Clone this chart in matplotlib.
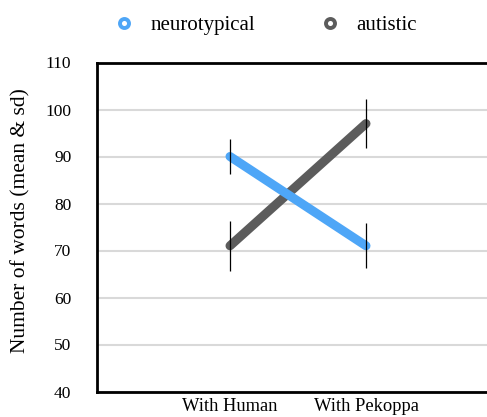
import matplotlib.pyplot as plt
from matplotlib.lines import Line2D

plt.rcParams['font.family'] = ['Liberation Serif', 'DejaVu Serif']

# 数据
conditions = ['With Human', 'With Pekoppa']
neuro_mean = [90, 71]
neuro_sd = [3.7, 4.8]
autistic_mean = [71, 97]
autistic_sd = [5.3, 5.2]
y_ticks = [40, 50, 60, 70, 80, 90, 100, 110]

BLUE = '#4ea6f7'
GREY = '#5c5c5c'

fig = plt.figure(figsize=(4.87, 4.17), dpi=100)
# 右边被截掉，坐标区延伸到画布外
ax = fig.add_axes([97 / 487, 1 - 391.5 / 417, (499 - 97) / 487, (391.5 - 62.5) / 417])

x = list(range(len(conditions)))

ax.plot(x, autistic_mean, color=GREY, lw=6.5, solid_capstyle='round', zorder=3)
ax.plot(x, neuro_mean, color=BLUE, lw=6.5, solid_capstyle='round', zorder=4)
ax.errorbar(x, neuro_mean, yerr=neuro_sd, fmt='none', ecolor='black', elinewidth=0.9, capsize=0, zorder=5)
ax.errorbar(x, autistic_mean, yerr=autistic_sd, fmt='none', ecolor='black', elinewidth=0.9, capsize=0, zorder=5)

ax.set_xlim(-0.978, 1.978)
ax.set_ylim(40, 110)
ax.set_yticks(y_ticks)
ax.set_xticks(x)
ax.set_xticklabels(conditions)
ax.tick_params(axis='both', length=0)
ax.tick_params(axis='x', pad=5, labelsize=13.3)
ax.tick_params(axis='y', pad=18.5, labelsize=12.5)
ax.yaxis.grid(True, color='#d9d9d9', lw=1.5)
ax.set_axisbelow(True)
for s in ['left', 'top', 'bottom']:
    ax.spines[s].set_linewidth(2)
    ax.spines[s].set_color('black')
ax.spines['right'].set_visible(False)

fig.text(21 / 487, 1 - 221 / 417, 'Number of words (mean & sd)', rotation=90,
         ha='center', va='center', fontsize=15.5)

handles = [
    Line2D([], [], ls='none', marker='o', markersize=6.5, markerfacecolor='white',
           markeredgecolor=BLUE, markeredgewidth=2.8),
    Line2D([], [], ls='none', marker='o', markersize=6.5, markerfacecolor='white',
           markeredgecolor=GREY, markeredgewidth=2.8),
]
fig.legend(handles, ['neurotypical', 'autistic'], loc='center', ncol=2,
           bbox_to_anchor=(265.3 / 487, 1 - 25 / 417), frameon=False, fontsize=15,
           handletextpad=0.75, columnspacing=3.1, handlelength=1.0)

fig.savefig('out.png', dpi=100)
